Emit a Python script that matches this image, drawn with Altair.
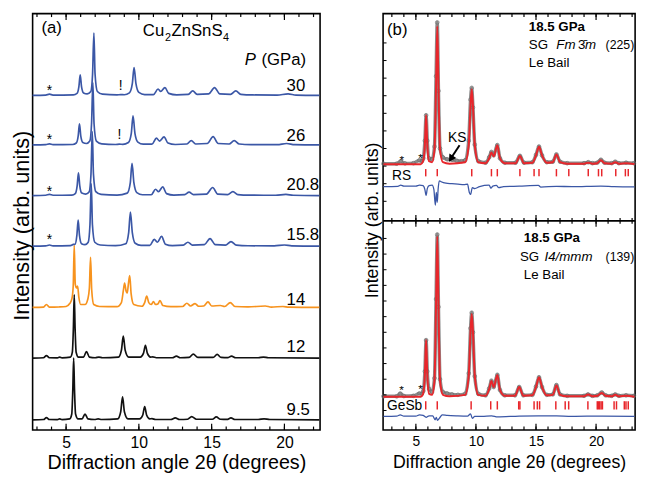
import altair as alt
import pandas as pd

# ---------------- Panel (a): Cu2ZnSnS4 patterns ----------------
left_pressures = ["9.5", "12", "14", "15.8", "20.8", "26", "30"]
left_offsets = [10.5, 74, 126, 189, 241, 293, 344]
left_colors = ["#111111", "#111111", "#f7931e", "#3b57a6", "#3b57a6", "#3b57a6", "#3b57a6"]

c95 = [(2.7,0),(3.45,0.3),(3.65,2.3),(3.85,0.3),(4.4,0.2),(4.56,1),(4.72,0.2),(5.25,1),(5.39,6),(5.46,30),(5.52,63.5),(5.58,30),(5.65,6),(5.82,1),(6.1,1),(6.3,6),(6.5,1),(6.95,0.3),(7.2,1),(7.45,0.3),(8.55,1),(8.75,8),(8.88,23.5),(9.01,8),(9.25,1),(10.05,1),(10.27,5),(10.4,13.5),(10.53,5),(10.75,1),(10.9,1.2),(11.15,0.3),(12.2,0.3),(12.5,2),(12.8,0.3),(13.35,0.6),(13.63,3.3),(13.95,0.6),(15.05,0.6),(15.32,3),(15.6,0.6),(16.05,0.4),(16.33,2),(16.6,0.3),(18.2,0.3),(18.6,1),(19.0,0.3),(22.4,0)]
c12 = [(2.7,0),(3.45,0.3),(3.65,2.5),(3.85,0.3),(4.4,0.2),(4.56,1),(4.72,0.2),(5.3,1),(5.43,6),(5.5,30),(5.56,65),(5.62,30),(5.69,6),(5.85,1),(6.2,1),(6.4,6.7),(6.6,1),(7.0,0.3),(7.25,1),(7.5,0.3),(8.6,1),(8.8,8),(8.93,22.5),(9.06,8),(9.3,1),(10.1,1),(10.32,5),(10.45,13),(10.58,5),(10.8,1),(10.95,1.2),(11.2,0.3),(12.3,0.3),(12.58,2),(12.85,0.3),(13.45,0.6),(13.74,4),(14.05,0.6),(15.1,0.6),(15.38,3.7),(15.65,0.6),(16.1,0.4),(16.37,2),(16.65,0.3),(18.2,0.3),(18.56,1),(18.9,0.3),(22.4,0)]
c14 = [(2.7,0),(3.45,0.3),(3.65,3),(3.85,0.3),(4.5,0.5),(5.0,1),(5.25,4),(5.4,9),(5.49,22),(5.56,64),(5.63,24),(5.72,20),(5.79,22),(5.88,10),(6.0,3),(6.3,3),(6.5,9),(6.6,20),(6.68,51.5),(6.76,18),(6.9,3),(7.3,1),(8.5,0.8),(8.8,5),(8.94,18),(9.02,25),(9.12,17),(9.2,15),(9.28,24),(9.37,32.7),(9.47,14),(9.65,3),(10.2,1.2),(10.4,5),(10.54,11.7),(10.68,5),(10.85,3),(11.0,6),(11.15,3),(11.3,3.5),(11.45,7),(11.65,2),(12.2,0.8),(13.0,1),(13.3,4.3),(13.55,1.5),(13.86,4),(14.1,1.2),(14.45,1.5),(14.75,5.7),(15.0,1.5),(15.6,2),(15.9,1),(16.28,5),(16.6,1),(17.5,0.5),(18.68,1.5),(19.1,0.4),(19.9,1),(20.3,0.3),(22.4,0)]
c158 = [(2.7,0),(3.6,0.3),(3.86,1.2),(4.1,0.3),(5.3,0.6),(5.5,1.8),(5.62,2),(5.74,11),(5.83,26.7),(5.92,11),(6.06,2.5),(6.3,1.5),(6.52,4),(6.64,22),(6.73,64),(6.81,22),(6.97,4),(7.35,1.2),(8.4,0.5),(9.1,2.5),(9.3,14),(9.42,35),(9.55,14),(9.75,3),(10.15,0.8),(10.75,0.8),(11.06,7),(11.27,4),(11.56,10),(11.82,2),(12.3,0.5),(13.05,1),(13.37,4),(13.68,1),(14.5,1.5),(14.89,7.7),(15.25,1.5),(15.95,1),(16.33,4.7),(16.7,1),(17.5,0.4),(19.3,0.3),(20.0,1.2),(20.5,0.3),(22.4,0)]
c208 = [(2.7,0),(3.6,0.3),(3.86,1.2),(4.1,0.3),(5.4,0.5),(5.63,2),(5.76,10),(5.85,23.3),(5.94,10),(6.08,2.5),(6.35,1.5),(6.59,4),(6.71,22),(6.8,65.7),(6.88,22),(7.04,4),(7.4,1.2),(8.5,0.5),(9.2,2.5),(9.41,13),(9.53,33),(9.66,13),(9.86,3),(10.25,0.8),(10.85,0.8),(11.15,6.5),(11.35,4),(11.64,9),(11.9,2),(12.4,0.5),(13.15,1),(13.45,3.5),(13.75,1),(14.65,1.5),(15.07,8.3),(15.42,1.5),(16.1,1),(16.46,4),(16.8,1),(17.6,0.4),(19.4,0.3),(20.1,1.2),(20.6,0.3),(22.4,0)]
c26 = [(2.7,0),(3.6,0.3),(3.86,1.2),(4.1,0.3),(5.45,0.5),(5.7,2),(5.83,9),(5.92,21.7),(6.01,9),(6.15,2.5),(6.4,1.5),(6.63,4),(6.75,22),(6.84,64),(6.92,22),(7.08,4),(7.45,1.2),(8.4,0.5),(8.66,0.8),(8.9,0.6),(9.28,2.5),(9.48,12),(9.6,30),(9.73,12),(9.93,3),(10.3,0.8),(10.9,0.8),(11.21,7),(11.42,4),(11.73,8.3),(12.0,2),(12.5,0.5),(13.3,1),(13.6,4.5),(13.9,1),(14.7,1.5),(15.1,8.5),(15.45,1.5),(16.2,1),(16.55,4.5),(16.9,1),(17.7,0.4),(19.5,0.3),(20.15,1.5),(20.7,0.3),(22.4,0)]
c30 = [(2.7,0),(3.6,0.3),(3.86,1.2),(4.1,0.3),(5.5,0.5),(5.75,2),(5.88,9),(5.97,21),(6.06,9),(6.2,2.5),(6.45,1.5),(6.7,4),(6.82,22),(6.91,64),(6.99,22),(7.15,4),(7.5,1.2),(8.5,0.5),(8.75,0.8),(9.0,0.6),(9.35,2.5),(9.55,12),(9.67,28.5),(9.8,12),(10.0,3),(10.4,0.8),(11.0,0.8),(11.32,6.5),(11.5,4),(11.79,8),(12.05,2),(12.6,0.5),(13.4,1),(13.7,4.5),(14.0,1),(14.8,1.5),(15.2,8),(15.55,1.5),(16.3,1),(16.66,4.5),(17.0,1),(17.8,0.4),(19.5,0.3),(20.25,1.5),(20.8,0.3),(22.4,0)]
left_curves = [c95, c12, c14, c158, c208, c26, c30]

# ---------------- Panel (b): Le Bail fits at 18.5 GPa ----------------
fit_top = [(2.3,0),(5.4,0),(5.6,3),(5.75,20),(5.85,50),(5.95,20),(6.1,3),(6.35,2),(6.55,15),(6.68,80),(6.78,141),(6.88,80),(7.01,15),(7.25,2),(7.8,0.5),(9.1,2),(9.4,20),(9.55,60),(9.65,76.7),(9.75,60),(9.9,20),(10.2,2),(10.8,1),(11.1,6),(11.29,12),(11.48,8),(11.78,19.3),(12.0,6),(12.4,1),(13.3,1),(13.66,8.3),(14.0,1),(14.7,1.5),(15.0,9),(15.25,17.7),(15.5,9),(15.9,1.5),(16.4,2),(16.7,10),(17.0,2),(17.6,0.5),(19.0,0.5),(19.35,1.5),(19.7,0.5),(20.1,1),(20.4,4),(20.7,1),(21.3,0.5),(21.6,2),(21.9,0.5),(22.5,1),(23.2,0)]
obs_top = [(2.3,0.5),(3.4,0.5),(3.74,3),(4.1,0.8),(4.8,1),(5.3,4),(5.5,3),(5.62,6),(5.75,24),(5.85,50),(5.95,24),(6.1,6),(6.35,5),(6.55,18),(6.68,90),(6.78,145),(6.88,75),(7.01,16),(7.25,7),(7.6,5),(8.0,4.5),(8.4,3.5),(8.8,3),(9.1,4),(9.4,24),(9.55,66),(9.65,78),(9.75,58),(9.9,20),(10.2,3),(10.8,1.5),(11.1,7),(11.29,12.5),(11.48,9),(11.78,19.5),(12.0,6),(12.4,1.5),(13.3,1.5),(13.66,8.5),(14.0,1.5),(14.7,2),(15.0,9.5),(15.25,18),(15.5,9),(15.9,2),(16.4,2.5),(16.7,10),(17.0,2.5),(17.6,1),(19.0,1),(19.35,2),(19.7,1),(20.1,1.5),(20.4,4.5),(20.7,1.5),(21.3,1),(21.6,2.5),(21.9,1),(22.5,1.5),(23.15,1)]
diff_top = [(2.3,0),(3.5,0.3),(3.74,1.5),(4.0,0.5),(5.0,0.5),(5.3,1.5),(5.6,1),(5.75,-3),(5.85,-9),(5.95,-2),(6.1,1),(6.35,1.5),(6.5,-3),(6.62,-19),(6.7,-6),(6.78,-16),(6.85,-3),(6.95,6),(7.1,5),(7.5,3.5),(8.0,3),(8.5,2.5),(9.0,2),(9.3,2.5),(9.45,-6),(9.55,-8),(9.7,-1),(9.9,-2),(10.3,0),(11.1,1.5),(11.25,-1.5),(11.4,0.5),(11.7,1.2),(11.9,-1),(12.3,0),(13.6,0.5),(15.2,1.2),(15.4,-0.5),(16.7,0.3),(18.0,0),(20.4,0.6),(21.5,0),(23.2,-0.3)]
fit_bot = [(2.3,0),(5.4,0),(5.6,3),(5.75,23),(5.85,58),(5.95,23),(6.1,3),(6.35,2),(6.55,17),(6.68,95),(6.78,164),(6.88,95),(7.01,17),(7.25,2),(7.8,0.5),(9.1,2),(9.4,22),(9.55,67),(9.65,84.7),(9.75,67),(9.9,22),(10.2,2),(10.8,1),(11.1,8),(11.29,16.3),(11.48,10),(11.78,22.3),(12.0,7),(12.4,1),(13.25,1),(13.6,10),(13.95,1),(14.7,1.5),(15.0,10),(15.25,20),(15.5,10),(15.9,1.5),(16.4,2),(16.7,11.7),(17.0,2),(17.6,0.5),(19.0,0.5),(19.33,2.3),(19.7,0.5),(20.1,1),(20.47,4),(20.8,1),(21.3,0.5),(21.6,2),(21.9,0.5),(22.5,1),(23.2,0)]
obs_bot = [(2.3,0.5),(3.4,0.5),(3.7,3.3),(4.0,0.8),(4.8,1),(5.3,3.5),(5.5,3),(5.62,6),(5.75,26),(5.85,58),(5.95,26),(6.1,8),(6.35,5),(6.55,19),(6.68,100),(6.78,166),(6.88,92),(7.01,18),(7.25,5),(7.6,3.5),(8.0,2.5),(8.5,2),(9.1,3),(9.4,24),(9.55,70),(9.65,86),(9.75,66),(9.9,21),(10.2,3),(10.8,1.5),(11.1,8.5),(11.29,16.5),(11.48,10),(11.78,22.5),(12.0,7),(12.4,1.5),(13.25,1.5),(13.6,10),(13.95,1.5),(14.7,2),(15.0,10.5),(15.25,20),(15.5,10),(15.9,2),(16.4,2.5),(16.7,12),(17.0,2.5),(17.6,1),(19.0,1),(19.33,2.5),(19.7,1),(20.1,1.5),(20.47,4.5),(20.8,1.5),(21.3,1),(21.6,2.5),(21.9,1),(22.5,1.5),(23.15,1)]
diff_bot = [(2.3,0),(3.4,0.3),(3.7,1.5),(4.0,0.3),(5.0,0.3),(5.3,1.5),(5.6,1),(5.85,-1),(6.1,0.5),(6.4,0.5),(6.6,-3.5),(6.7,-1),(6.8,-4),(6.95,-2),(7.2,1.5),(7.6,1),(8.5,0.5),(9.3,0.3),(9.55,2.5),(9.7,-2),(9.9,0),(10.5,0),(11.3,0.6),(11.8,-0.5),(13.6,0.3),(15.2,0.5),(16.7,0.4),(18.0,0),(20.5,0.3),(23.2,0)]
right_fit_base = [272, 34]
right_diff_base = [249, 14]
rs_ticks = [5.82,6.78,9.65,11.29,11.78,13.66,14.84,15.25,16.7,17.73,19.35,20.2,20.47,21.64,22.44,22.68]
gesb_ticks = [5.82,6.78,9.6,11.23,11.78,13.56,13.66,14.84,15.11,15.3,16.65,17.43,17.72,19.32,20.1,20.2,20.3,20.42,20.53,21.5,21.7,22.35,22.49,22.68]
right_spine_ticks = [20,36,52,68,84,100,116,132,148,164,180,196,234,252,270,288,306,324,342,360,378,396]

left_minor = list(range(3, 23))
right_minor = list(range(3, 24))
major_ticks = [5, 10, 15, 20]

FONT = "Liberation Sans"
BLUE = "#3b57a6"
RED = "#e8262b"

# ---------------- helpers ----------------
def txt(text, x, y, size, style="normal", weight="normal", align="left"):
    # x in pixels from the plot's left edge, y in the panel's intensity units
    return alt.Chart(pd.DataFrame({"t": [text]})).mark_text(
        text=text, fontSize=size, fontStyle=style, fontWeight=weight,
        align=align, baseline="alphabetic", color="black", font=FONT
    ).encode(x=alt.value(x), y=alt.datum(y))

def tick_rules(vals, xenc, y1, y2, width=1.2):
    df = pd.DataFrame({"deg": vals})
    return alt.Chart(df).mark_rule(color="black", strokeWidth=width).encode(
        x=xenc, y=alt.value(y1), y2=alt.value(y2))

# ---------------- left chart ----------------
LW, LH = 292, 423
LDOM = 428
lx_scale = alt.Scale(domain=[2.7, 22.45], nice=False, zero=False)
ly_scale = alt.Scale(domain=[0, LDOM], nice=False, zero=False)
lx_axis = alt.Axis(values=major_ticks, ticks=False, domain=False, grid=False,
                   labelFontSize=16, labelPadding=5, labelFont=FONT,
                   title="Diffraction angle 2θ (degrees)", titleFontSize=20,
                   titleFontWeight="normal", titleFont=FONT, titleY=39,
                   titleBaseline="alphabetic")
ly_axis = alt.Axis(labels=False, ticks=False, domain=False, grid=False,
                   title="Intensity (arb. units)", titleFontSize=22,
                   titleFontWeight="normal", titleFont=FONT, titleAngle=270,
                   titleX=-4.6, titleY=215, titleBaseline="alphabetic",
                   titleAlign="center")
lxenc = alt.X("deg:Q", scale=lx_scale, axis=lx_axis)
lyenc = alt.Y("val:Q", scale=ly_scale, axis=ly_axis)

rows = []
for p, off, pts in zip(left_pressures, left_offsets, left_curves):
    for d, v in pts:
        rows.append({"deg": d, "val": v + off, "p": p})
left_df = pd.DataFrame(rows)

left_lines = alt.Chart(left_df).mark_line(strokeWidth=1.7, interpolate="monotone").encode(
    x=lxenc, y=lyenc,
    color=alt.Color("p:N", scale=alt.Scale(domain=left_pressures, range=left_colors), legend=None),
    detail="p:N",
)

left_layers = [
    left_lines,
    tick_rules(left_minor, lxenc, LH, LH - 3.5),
    tick_rules(major_ticks, lxenc, LH, LH - 6.5),
    tick_rules(left_minor, lxenc, 0, 3.5),
    tick_rules(major_ticks, lxenc, 0, 6.5),
    txt("(a)", 9, 407.6, 17),
    txt("Cu", 112, 405, 17),
    txt("2", 134.5, 400, 11),
    txt("ZnSnS", 141, 405, 17),
    txt("4", 193.5, 400, 11),
    txt("P", 215.5, 375, 17, style="italic"),
    txt("(GPa)", 232.5, 375, 17),
]
label_pos = [("30", 348), ("26", 297), ("20.8", 247), ("15.8", 195), ("14", 129), ("12", 80), ("9.5", 15)]
for lab, yy in label_pos:
    left_layers.append(txt(lab, 258, yy, 17))
for yy in [344, 293.5, 241, 191]:
    left_layers.append(txt("*", 17, yy, 14, align="center"))
left_layers.append(txt("!", 89.4, 349, 14, align="center"))
left_layers.append(txt("!", 88.1, 299, 14, align="center"))

left_chart = alt.layer(*left_layers).properties(width=LW, height=LH)

# ---------------- right chart ----------------
RW, RH = 256, 423
RDOM = 426
SEP = 214
rx_scale = alt.Scale(domain=[2.27, 23.25], nice=False, zero=False)
ry_scale = alt.Scale(domain=[0, RDOM], nice=False, zero=False)
rx_axis = alt.Axis(values=major_ticks, ticks=False, domain=False, grid=False,
                   labelFontSize=14, labelPadding=5, labelFont=FONT,
                   title="Diffraction angle 2θ (degrees)", titleFontSize=18,
                   titleFontWeight="normal", titleFont=FONT, titleY=38,
                   titleBaseline="alphabetic")
ry_axis = alt.Axis(labels=False, ticks=False, domain=False, grid=False,
                   title="Intensity (arb. units)", titleFontSize=18,
                   titleFontWeight="normal", titleFont=FONT, titleAngle=270,
                   titleX=-5.2, titleY=209.5, titleBaseline="alphabetic",
                   titleAlign="center")
rxenc = alt.X("deg:Q", scale=rx_scale, axis=rx_axis)
ryenc = alt.Y("val:Q", scale=ry_scale, axis=ry_axis)

def build(parts, bases):
    rows = []
    for name, pts, b in zip(["top", "bot"], parts, bases):
        for d, v in pts:
            rows.append({"deg": d, "val": v + b, "part": name})
    return pd.DataFrame(rows)

obs_df = build([obs_top, obs_bot], right_fit_base)
fit_df = build([fit_top, fit_bot], right_fit_base)
diff_df = build([diff_top, diff_bot], right_diff_base)

obs_band = alt.Chart(obs_df).mark_line(color="#8c8c8c", strokeWidth=3.5, interpolate="monotone").encode(
    x=rxenc, y=ryenc, detail="part:N")
obs_pts = alt.Chart(obs_df).mark_point(shape="circle", filled=False, color="#6a6a6a", size=14, strokeWidth=1).encode(
    x=rxenc, y=ryenc)
fit_line = alt.Chart(fit_df).mark_line(color=RED, strokeWidth=2, interpolate="monotone").encode(
    x=rxenc, y=ryenc, detail="part:N")
diff_line = alt.Chart(diff_df).mark_line(color=BLUE, strokeWidth=1.3, interpolate="monotone").encode(
    x=rxenc, y=ryenc, detail="part:N")

rs_rules = alt.Chart(pd.DataFrame({"deg": rs_ticks})).mark_rule(color=RED, strokeWidth=1.5).encode(
    x=rxenc, y=alt.datum(267), y2=alt.datum(259.5))
gesb_rules = alt.Chart(pd.DataFrame({"deg": gesb_ticks})).mark_rule(color=RED, strokeWidth=1.5).encode(
    x=rxenc, y=alt.datum(29.5), y2=alt.datum(21))

separator = alt.Chart(pd.DataFrame({"val": [SEP]})).mark_rule(color="black", strokeWidth=1.6).encode(
    y=ryenc, x=alt.value(0), x2=alt.value(RW))
spine = alt.Chart(pd.DataFrame({"val": right_spine_ticks})).mark_rule(color="black", strokeWidth=1).encode(
    y=ryenc, x=alt.value(0), x2=alt.value(3.5))

arrow_line = alt.Chart(pd.DataFrame({"a": [0]})).mark_rule(color="black", strokeWidth=2).encode(
    x=alt.value(77.7), y=alt.datum(291.3), x2=alt.value(69.3), y2=alt.datum(278.5))
arrow_head = alt.Chart(pd.DataFrame({"a": [0]})).mark_point(
    shape="triangle-up", filled=True, color="black", size=70, angle=213, opacity=1).encode(
    x=alt.value(68.9), y=alt.datum(277.6))

sep_px = RH * (1 - SEP / RDOM)
right_layers = [
    obs_band, obs_pts, fit_line, diff_line, rs_rules, gesb_rules, separator, spine,
    tick_rules(right_minor, rxenc, RH, RH - 3.5),
    tick_rules(major_ticks, rxenc, RH, RH - 6.5),
    tick_rules(right_minor, rxenc, 0, 3.5),
    tick_rules(major_ticks, rxenc, 0, 6.5),
    tick_rules(right_minor, rxenc, sep_px - 3, sep_px + 3),
    tick_rules(major_ticks, rxenc, sep_px - 6, sep_px + 6),
    txt("(b)", 4, 404.6, 17),
    txt("18.5 GPa", 148, 408, 13.5, weight="bold"),
    txt("SG", 148, 390, 13.5),
    txt("Fm", 176, 390, 13.5, style="italic"),
    txt("3\u0304", 198, 390, 13.5),
    txt("m", 205, 390, 13.5, style="italic"),
    txt("(225)", 226, 390, 12.5),
    txt("Le Bail", 148, 371, 13.5),
    txt("18.5 GPa", 143, 192, 13.5, weight="bold"),
    txt("SG", 139, 173, 13.5),
    txt("I4/mmm", 164, 173, 13.5, style="italic"),
    txt("(139)", 226, 173, 12.5),
    txt("Le Bail", 143, 155, 13.5),
    txt("RS", 9, 256, 14),
    txt("GeSb", 4, 21, 14),
    txt("KS", 66, 295, 14),
    txt("*", 19, 272, 12, align="center"),
    txt("*", 38, 274.5, 12, align="center"),
    txt("*", 18.7, 37, 12, align="center"),
    txt("*", 38, 38, 12, align="center"),
    arrow_line, arrow_head,
]
right_chart = alt.layer(*right_layers).properties(width=RW, height=RH)

chart = alt.hconcat(left_chart, right_chart, spacing=40).properties(
    padding={"left": 1, "top": 0, "right": 0, "bottom": 0}
).configure(font=FONT).configure_view(stroke="black", strokeWidth=1.6)

chart.save("out.html", embed_options={"renderer": "svg", "actions": False})
